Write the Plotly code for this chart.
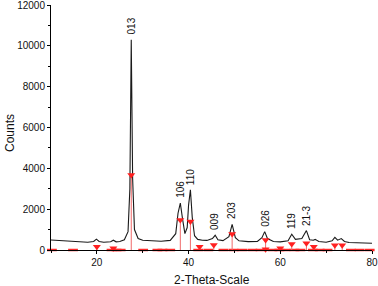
import plotly.graph_objects as go

theta = [10, 12, 14, 16, 18, 19.3, 19.9, 20.5, 21.5, 23, 23.6, 24.2, 25, 26, 26.8, 27.2, 27.5, 27.8,
         28.2, 29, 30, 32, 34, 36, 37.2, 37.7, 38.2, 38.7, 39.2, 39.7, 40.0, 40.4, 40.8, 41.3, 42, 43,
         44, 45.2, 45.8, 46.4, 47.5, 48.8, 49.5, 50.2, 51, 53, 55, 56.0, 56.6, 57.2, 58.5, 60, 61.7,
         62.5, 63.3, 64.7, 65.7, 66.4, 67.2, 67.6, 68.4, 70, 71.3, 71.9, 72.5, 73.3, 74.0, 75, 77, 80]
counts = [490, 470, 440, 400, 380, 420, 530, 420, 380, 400, 480, 400, 420, 500, 900, 3000, 10300, 3500,
          1000, 560, 480, 450, 430, 470, 800, 1800, 2300, 1500, 800, 1100, 2200, 2950, 1600, 700, 520, 480,
          470, 560, 720, 500, 460, 650, 1260, 600, 450, 410, 420, 600, 900, 560, 420, 400, 450,
          770, 520, 560, 950, 500, 480, 520, 420, 380, 450, 620, 480, 560, 420, 370, 340, 330]

# Reference pattern sticks
ref_theta = [20.0, 23.6, 27.5, 38.2, 40.4, 42.4, 45.5, 49.5, 56.8, 56.8, 60.0, 62.5, 65.7, 67.3, 71.9, 73.5]
ref_counts = [160, 80, 3670, 1470, 1400, 160, 240, 780, 490, 40, 80, 290, 330, 160, 230, 230]

# Small reference ticks lying on the baseline
base_theta = [10.2, 14.8, 23.2, 24.3, 25.2, 30.1, 33.2, 34.3, 36.0, 42.1, 44.3, 47.6, 49.8, 51.7, 53.9,
              55.7, 58.3, 59.8, 61.1, 63.1, 64.4, 67.1, 68.6, 70.3, 75.4, 77.3, 79.5]

# Peak labels
label_text = ["013", "106", "110", "009", "203", "026", "119", "21-3"]
label_theta = [27.5, 38.2, 40.4, 45.8, 49.5, 56.6, 62.5, 65.7]
label_counts = [10300, 2300, 2950, 720, 1260, 900, 770, 950]

FONT = "Liberation Sans, Arial"

fig = go.Figure()

# baseline dashes
fig.add_trace(go.Scatter(x=base_theta, y=[0] * len(base_theta), mode="markers",
                         marker=dict(symbol="line-ew", size=7, line=dict(color="#ff2a2a", width=2.5)),
                         showlegend=False, cliponaxis=False))

# sticks
sx, sy = [], []
for t, c in zip(ref_theta, ref_counts):
    sx += [t, t, None]
    sy += [0, c, None]
fig.add_trace(go.Scatter(x=sx, y=sy, mode="lines", line=dict(color="#f06a6a", width=1),
                         showlegend=False, hoverinfo="skip"))

# measured pattern
fig.add_trace(go.Scatter(x=theta, y=counts, mode="lines", line=dict(color="#1a1a1a", width=1.1),
                         showlegend=False))

# triangle markers on sticks
fig.add_trace(go.Scatter(x=ref_theta, y=ref_counts, mode="markers",
                         marker=dict(symbol="triangle-down", size=7, color="#ff2020"),
                         showlegend=False, cliponaxis=False))

for t, x, y in zip(label_text, label_theta, label_counts):
    fig.add_annotation(x=x, y=y, text=t, showarrow=False, textangle=-90,
                       yanchor="bottom", xanchor="center", yshift=3,
                       font=dict(family=FONT, size=10, color="#111"))

# axis titles
fig.add_annotation(xref="paper", yref="paper", x=0.5, y=-0.1224, text="2-Theta-Scale",
                   showarrow=False, xanchor="center", yanchor="middle",
                   font=dict(family=FONT, size=12, color="#111"))
fig.add_annotation(xref="paper", yref="paper", x=-0.1277, y=0.4776, text="Counts", textangle=-90,
                   showarrow=False, xanchor="center", yanchor="middle",
                   font=dict(family=FONT, size=12, color="#111"))

axis_common = dict(showline=True, linecolor="black", linewidth=1, ticks="outside", ticklen=3,
                   tickcolor="black", showgrid=False, zeroline=False, tickformat="d",
                   automargin=False, ticklabeloverflow="allow",
                   tickfont=dict(family=FONT, size=10, color="#111"))

fig.update_xaxes(range=[10, 80], tick0=0, dtick=20,
                 minor=dict(dtick=10, ticks="outside", ticklen=2, tickcolor="black"),
                 **axis_common)
fig.update_yaxes(range=[0, 12000], tick0=0, dtick=2000,
                 minor=dict(dtick=1000, ticks="outside", ticklen=2, tickcolor="black"),
                 **axis_common)

fig.update_layout(width=378, height=286, margin=dict(l=51, r=6, t=5, b=36),
                  plot_bgcolor="white", paper_bgcolor="white", showlegend=False)

fig.write_html("out.html", config={"displayModeBar": False},
               post_script="document.body.style.margin='0';document.body.style.overflow='hidden';")
